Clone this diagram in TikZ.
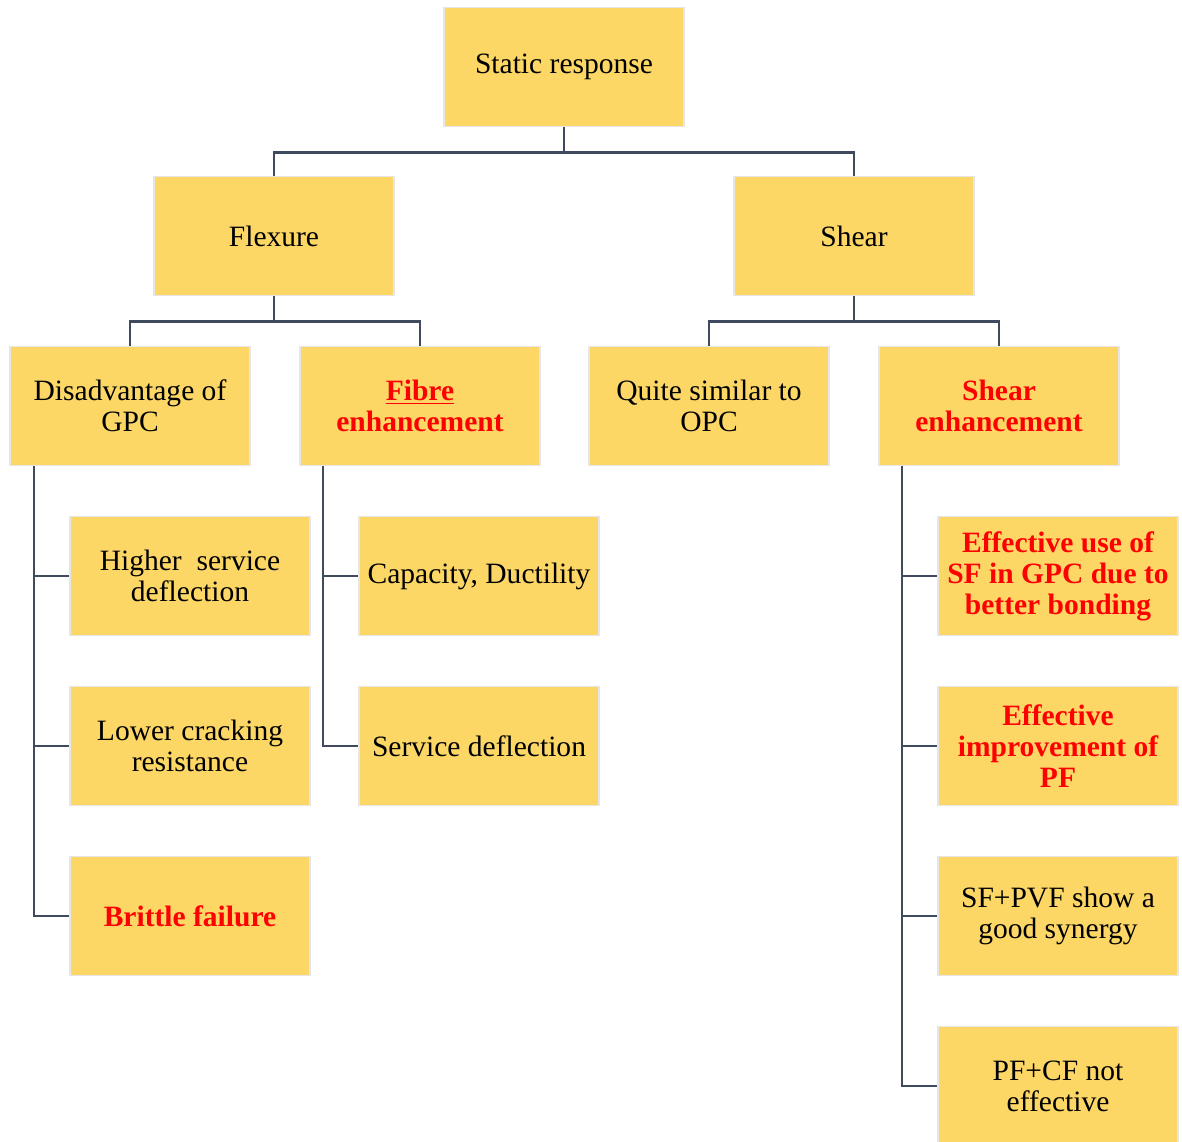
\documentclass[tikz,border=0pt]{standalone}
\usepackage{fontspec}
\setmainfont{Liberation Serif}
\usepackage{xcolor}
\usetikzlibrary{positioning,calc}

\definecolor{boxfill}{RGB}{252,215,102}
\definecolor{boxline}{RGB}{230,230,230}
\definecolor{linkcol}{RGB}{63,74,94}

\begin{document}
\begin{tikzpicture}[
  font=\fontsize{21}{22}\selectfont,
  itembox/.style={draw=boxline, line width=1.4pt, fill=boxfill, minimum width=6.0cm, minimum height=2.975cm, align=center, inner sep=2pt},
  keybox/.style={itembox, text=red, font=\fontsize{21}{22}\selectfont\bfseries},
  link/.style={draw=linkcol, line width=1.8pt}
]
  \useasboundingbox (0,0) rectangle (29.55,-28.55);

  % top levels
  \node[itembox] (root) at (14.1,-1.675) {Static response};
  \node[itembox] (flex) at (6.85,-5.9) {Flexure};
  \node[itembox] (shear) at (21.35,-5.9) {Shear};

  \node[itembox] (disadv) at (3.25,-10.15) {Disadvantage of\\GPC};
  \node[keybox] (fibre) at (10.5,-10.15) {\underline{Fibre}\\enhancement};
  \node[itembox] (similar) at (17.725,-10.15) {Quite similar to\\OPC};
  \node[keybox] (shenh) at (24.975,-10.15) {Shear\\enhancement};

  % flexure leaves
  \node[itembox] (hsd) at (4.75,-14.4) {Higher\ \ service\\deflection};
  \node[itembox] (lcr) at (4.75,-18.65) {Lower cracking\\resistance};
  \node[keybox] (brittle) at (4.75,-22.9) {Brittle failure};

  \node[itembox] (capdu) at (11.975,-14.4) {Capacity, Ductility};
  \node[itembox] (servd) at (11.975,-18.65) {Service deflection};

  % shear leaves
  \node[keybox] (sfuse) at (26.45,-14.4) {Effective use of\\SF in GPC due to\\better bonding};
  \node[keybox] (pfimp) at (26.45,-18.65) {Effective\\improvement of\\PF};
  \node[itembox] (sfpvf) at (26.45,-22.9) {SF+PVF show a\\good synergy};
  \node[itembox] (pfcf) at (26.45,-27.15) {PF+CF not\\effective};

  % tree links
  \draw[link] (root.south) -- ++(0,-0.625) -| (flex.north);
  \draw[link] (root.south) -- ++(0,-0.625) -| (shear.north);
  \draw[link] (flex.south) -- ++(0,-0.625) -| (disadv.north);
  \draw[link] (flex.south) -- ++(0,-0.625) -| (fibre.north);
  \draw[link] (shear.south) -- ++(0,-0.625) -| (similar.north);
  \draw[link] (shear.south) -- ++(0,-0.625) -| (shenh.north);

  % side spines
  \draw[link] ($(disadv.south west)+(0.625,0)$) |- (hsd.west);
  \draw[link] ($(disadv.south west)+(0.625,0)$) |- (lcr.west);
  \draw[link] ($(disadv.south west)+(0.625,0)$) |- (brittle.west);

  \draw[link] ($(fibre.south west)+(0.6,0)$) |- (capdu.west);
  \draw[link] ($(fibre.south west)+(0.6,0)$) |- (servd.west);

  \draw[link] ($(shenh.south west)+(0.6,0)$) |- (sfuse.west);
  \draw[link] ($(shenh.south west)+(0.6,0)$) |- (pfimp.west);
  \draw[link] ($(shenh.south west)+(0.6,0)$) |- (sfpvf.west);
  \draw[link] ($(shenh.south west)+(0.6,0)$) |- (pfcf.west);
\end{tikzpicture}
\end{document}
